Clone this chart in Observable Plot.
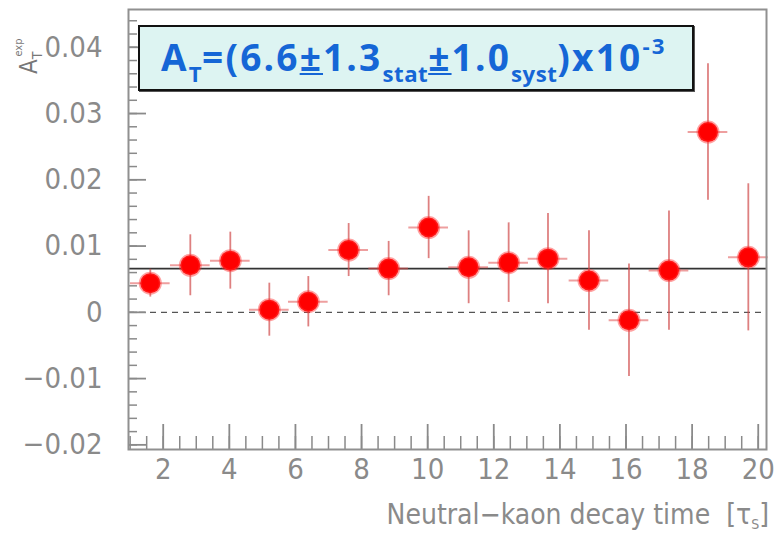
<!DOCTYPE html>
<html>
<head>
<meta charset="utf-8">
<script src="https://cdn.jsdelivr.net/npm/d3@7"></script>
<script src="https://cdn.jsdelivr.net/npm/@observablehq/plot@0.6"></script>
<style>
  html, body { margin: 0; padding: 0; background: #fff; }
  #wrap { position: relative; width: 782px; height: 535px; overflow: hidden; }
  #box {
    position: absolute; left: 138px; top: 25px; width: 531px; height: 62px;
    border: 2px solid #111; background: #ddf4f2;
    box-shadow: 1px 1px 0 #555;
    font-family: "Open Sans", "DejaVu Sans", sans-serif; font-weight: 700;
    color: #1566d6; font-size: 37px; line-height: 60px; white-space: nowrap;
    padding-left: 21px; box-sizing: content-box; letter-spacing: 2.2px;
  }
  #box sub { font-size: 0.6em; vertical-align: -0.5em; line-height: 0; letter-spacing: 0.5px; }
  #box sup { font-size: 0.6em; vertical-align: 0.75em; line-height: 0; }
  #box u { text-decoration-thickness: 2px; text-underline-offset: 2px; }
</style>
</head>
<body>
<div id="wrap"></div>
<script>
// ---- data ----
const decayTime = [1.61, 2.82, 4.03, 5.21, 6.39, 7.61, 8.82, 10.03, 11.24, 12.45, 13.64, 14.88, 16.09, 17.30, 18.48, 19.70];
const asymmetry = [0.0044, 0.0071, 0.0078, 0.0004, 0.0016, 0.0094, 0.0066, 0.0128, 0.0068, 0.0075, 0.0081, 0.0048, -0.0012, 0.0063, 0.0272, 0.0083];
const asymmetryErr = [0.0021, 0.0046, 0.0043, 0.0040, 0.0038, 0.0040, 0.0041, 0.0047, 0.0055, 0.0060, 0.0068, 0.0075, 0.0085, 0.0090, 0.0103, 0.0111];
const binHalfWidth = [0.6, 0.6, 0.6, 0.6, 0.6, 0.6, 0.6, 0.6, 0.6, 0.6, 0.6, 0.6, 0.6, 0.6, 0.6, 0.6];
const fitValue = 0.0066;

const xMajorTicks = [2, 4, 6, 8, 10, 12, 14, 16, 18, 20];
const xMinorTicks = d3.range(1, 20.01, 0.5);
const yMajorTicks = [-0.02, -0.01, 0, 0.01, 0.02, 0.03, 0.04];
const yTickLabels = ["\u22120.02", "\u22120.01", "0", "0.01", "0.02", "0.03", "0.04"];
const yMinorTicks = d3.range(-0.020, 0.0451, 0.002);

const rows = decayTime.map((t, i) => ({t, a: asymmetry[i], e: asymmetryErr[i], w: binHalfWidth[i]}));

const axisFont = '"Liberation Sans Narrow", "DejaVu Sans Condensed", sans-serif';
const grey = "#8a8a8a";

const chart = Plot.plot({
  width: 782,
  height: 535,
  marginLeft: 128,
  marginRight: 16,
  marginTop: 9,
  marginBottom: 86,
  x: {domain: [0.95, 20.25]},
  y: {domain: [-0.0207, 0.0457]},
  style: {fontFamily: axisFont, color: grey, background: "#fff"},
  marks: [
    Plot.ruleY([0], {stroke: "#555", strokeWidth: 1.2, strokeDasharray: "6,5"}),
    Plot.ruleY([fitValue], {stroke: "#333", strokeWidth: 1.6}),
    Plot.ruleX(rows, {x: "t", y1: d => d.a - d.e, y2: d => d.a + d.e, stroke: "#d04a4a", strokeWidth: 1.8, strokeOpacity: 0.7}),
    Plot.ruleY(rows, {y: "a", x1: d => d.t - d.w, x2: d => d.t + d.w, stroke: "#e05050", strokeWidth: 2, strokeOpacity: 0.55}),
    Plot.dot(rows, {x: "t", y: "a", r: 10, fill: "#ff0000", stroke: "#ff3030", strokeWidth: 3, strokeOpacity: 0.45}),
    // ticks pointing inward
    Plot.axisX(xMinorTicks, {tickSize: -13, tickFormat: () => "", label: null, stroke: grey, strokeWidth: 1.5}),
    Plot.axisX(xMajorTicks, {tickSize: -25, tickFormat: () => "", label: null, stroke: grey, strokeWidth: 1.8}),
    Plot.axisY(yMinorTicks, {tickSize: -9, tickFormat: () => "", label: null, stroke: grey, strokeWidth: 1.5}),
    Plot.axisY(yMajorTicks, {tickSize: -18, tickFormat: () => "", label: null, stroke: grey, strokeWidth: 1.8}),
    // labels
    Plot.axisX(xMajorTicks, {tickSize: 0, tickPadding: 9, tickFormat: d => String(d), label: null, fontSize: 29, fill: grey}),
    Plot.axisY(yMajorTicks, {tickSize: 0, tickPadding: 26, tickFormat: d => yTickLabels[yMajorTicks.indexOf(d)], label: null, fontSize: 29, fill: grey}),
    Plot.frame({stroke: "#909090", strokeWidth: 2})
  ]
});

const wrap = document.getElementById("wrap");
wrap.appendChild(chart);

const svg = d3.select(chart);
// x-axis title
const xt = svg.append("text")
  .attr("x", 769).attr("y", 524)
  .attr("text-anchor", "end")
  .attr("font-family", axisFont).attr("font-size", 28).attr("fill", grey);
xt.append("tspan").text("Neutral\u2212kaon decay time  [\u03c4");
xt.append("tspan").attr("font-size", 14).attr("dy", 5).text("S");
xt.append("tspan").attr("dy", -5).text("]");

// y-axis title
const yt = svg.append("text")
  .attr("transform", "translate(37,74) rotate(-90)")
  .attr("text-anchor", "start")
  .attr("font-family", axisFont).attr("font-size", 24).attr("fill", "#777");
yt.append("tspan").text("A");
yt.append("tspan").attr("font-size", 14).attr("dy", 5).text("T");
yt.append("tspan").attr("font-size", 11).attr("dy", -20).attr("dx", -5).text("exp");

// annotation box
const box = document.createElement("div");
box.id = "box";
box.innerHTML = 'A<sub>T</sub>=(6.6<u>±</u>1.3<sub>stat</sub><u>±</u>1.0<sub>syst</sub>)x10<sup>-3</sup>';
wrap.appendChild(box);
</script>
</body>
</html>
